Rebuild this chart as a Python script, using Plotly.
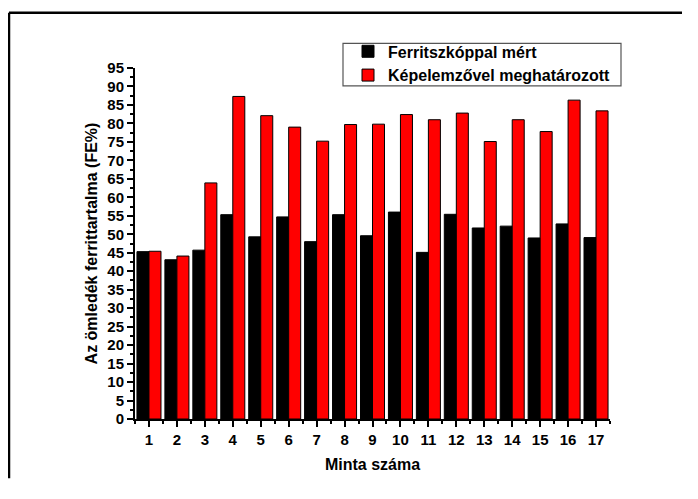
import plotly.graph_objects as go

samples = [str(i) for i in range(1, 18)]
ferritscope = [45.3, 43.1, 45.7, 55.3, 49.3, 54.7, 48.0, 55.3, 49.6, 56.0, 45.1, 55.4, 51.7, 52.2, 49.0, 52.8, 49.1]
image_analysis = [45.4, 44.1, 63.9, 87.3, 82.1, 79.0, 75.2, 79.7, 79.8, 82.4, 81.0, 82.8, 75.1, 81.0, 77.8, 86.3, 83.4]
y_ticks = list(range(0, 100, 5))

FONT = "Liberation Sans, Arial, sans-serif"

fig = go.Figure()
fig.add_trace(go.Bar(x=list(range(1, 18)), y=ferritscope, name="<b>Ferritszkóppal mért</b>",
                     marker=dict(color="#000000", line=dict(color="#000000", width=1))))
fig.add_trace(go.Bar(x=list(range(1, 18)), y=image_analysis, name="<b>Képelemzővel meghatározott</b>",
                     marker=dict(color="#ff0000", line=dict(color="#000000", width=1))))

# page body has an 8px margin; keep the figure well inside the window to avoid scrollbars
OFF = 8
W, H = 698 - 2 * OFF - 8, 499 - 2 * OFF - 8
L, T = 135 - OFF, 68 - OFF
R, B = W - (610 - OFF), H - (423 - OFF)
pw, ph = W - L - R, H - T - B

def px(x):
    return (x - OFF - L) / pw

def py(y):
    return (H - B - (y - OFF)) / ph

fig.update_layout(
    width=W, height=H,
    margin=dict(l=L, r=R, t=T, b=B, pad=0),
    paper_bgcolor="white", plot_bgcolor="white",
    barmode="group", bargap=0.14, bargroupgap=0.0,
    font=dict(family=FONT, color="black", size=12),
    showlegend=True,
    legend=dict(x=px(348), y=py(34), xanchor="left", yanchor="top",
                borderwidth=0, bgcolor="rgba(0,0,0,0)",
                font=dict(family=FONT, size=16, color="black"),
                itemwidth=30, tracegroupgap=0, traceorder="normal"),
    xaxis=dict(range=[0.5, 17.5], tickmode="array", tickvals=list(range(1, 18)), ticktext=samples,
               showline=True, linecolor="black", linewidth=2, mirror=False,
               ticks="outside", ticklen=6, tickwidth=2, tickcolor="black",
               minor=dict(tickmode="array", tickvals=[i + 0.5 for i in range(0, 18)], ticks="outside", ticklen=3, tickwidth=1.5, tickcolor="black"),
               showgrid=False, zeroline=False,
               tickfont=dict(family=FONT, size=15, color="black", weight="bold"),
               title=dict(text="<b>Minta száma</b>", font=dict(family=FONT, size=16, color="black"), standoff=12)),
    yaxis=dict(range=[0, 95], tickmode="array", tickvals=y_ticks, ticktext=[str(v) for v in y_ticks],
               showline=True, linecolor="black", linewidth=2, mirror=False,
               ticks="outside", ticklen=6, tickwidth=2, tickcolor="black",
               minor=dict(dtick=2.5, ticks="outside", ticklen=3, tickwidth=1.5, tickcolor="black"),
               showgrid=False, zeroline=False,
               tickfont=dict(family=FONT, size=15, color="black", weight="bold"),
               title=dict(text="<b>Az ömledék ferrittartalma (FE%)</b>", font=dict(family=FONT, size=16, color="black"), standoff=6)),
)

# legend frame
fig.add_shape(type="rect", xref="paper", yref="paper", x0=px(343), x1=px(621), y0=py(86), y1=py(43),
              line=dict(color="#555555", width=1.2), fillcolor="white", layer="above")

# outer frame (left and top edges visible), kept inside the figure area
fig.add_shape(type="line", xref="paper", yref="paper", x0=px(9), x1=px(9), y0=py(12), y1=py(OFF + H),
              line=dict(color="black", width=2.5))
fig.add_shape(type="line", xref="paper", yref="paper", x0=px(9), x1=px(OFF + W), y0=py(12), y1=py(12),
              line=dict(color="black", width=2.5))

fig.write_html("out.html", post_script="document.body.style.overflow='hidden';document.documentElement.style.overflow='hidden';")
